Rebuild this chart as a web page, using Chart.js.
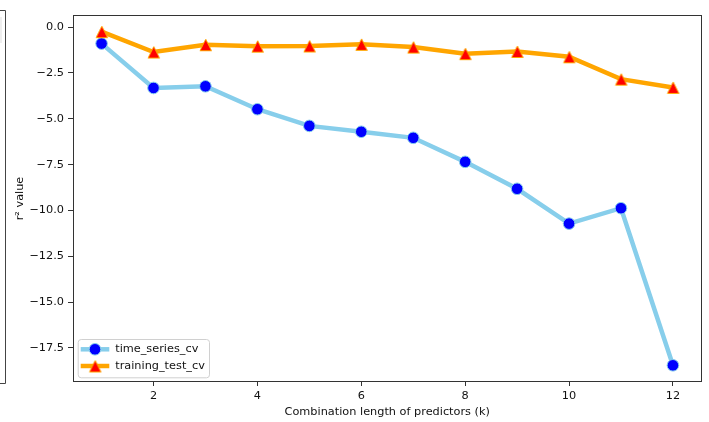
<!DOCTYPE html>
<html>
<head>
<meta charset="utf-8">
<script src="https://cdn.jsdelivr.net/npm/chart.js@4/dist/chart.umd.min.js"></script>
<style>
  html, body { margin: 0; padding: 0; background: #fff; }
  #wrap { width: 709px; height: 422px; position: relative; }
</style>
</head>
<body>
<div id="wrap"><canvas id="c" width="709" height="422"></canvas></div>
<script>
const kValues = [1, 2, 3, 4, 5, 6, 7, 8, 9, 10, 11, 12];
const timeSeriesCv = [-0.90, -3.32, -3.23, -4.48, -5.39, -5.71, -6.04, -7.35, -8.82, -10.72, -9.88, -18.45];
const trainingTestCv = [-0.25, -1.36, -0.96, -1.04, -1.03, -0.94, -1.09, -1.45, -1.33, -1.62, -2.84, -3.29];
const xTicks = [2, 4, 6, 8, 10, 12];
const yTicks = [0, -2.5, -5, -7.5, -10, -12.5, -15, -17.5];
const seriesNames = ['time_series_cv', 'training_test_cv'];

const FONT = "'DejaVu Sans', sans-serif";
const FS = 11.3;
const TXT = '#111';

// matplotlib-style '^' marker: bbox centred on the point
function makeTriangle(size, fill, edge) {
  const pad = 2;
  const s = size + pad * 2;
  const cv = document.createElement('canvas');
  cv.width = s; cv.height = s;
  const g = cv.getContext('2d');
  const c = s / 2, h = size / 2;
  g.beginPath();
  g.moveTo(c, c - h);
  g.lineTo(c - h, c + h);
  g.lineTo(c + h, c + h);
  g.closePath();
  g.fillStyle = fill; g.fill();
  g.lineWidth = 1; g.strokeStyle = edge; g.stroke();
  return cv;
}
const triImg = makeTriangle(11.5, '#ff0000', '#ffa500');

const framePlugin = {
  id: 'framePlugin',
  beforeDraw(chart) {
    const ctx = chart.ctx;
    ctx.save();
    // partial neighbouring panel at the far left
    ctx.strokeStyle = '#444';
    ctx.lineWidth = 1;
    ctx.beginPath();
    ctx.moveTo(0, 10.5); ctx.lineTo(5.5, 10.5); ctx.lineTo(5.5, 383.5); ctx.lineTo(0, 383.5);
    ctx.stroke();
    ctx.strokeStyle = '#ddd';
    ctx.beginPath();
    ctx.moveTo(1, 17); ctx.lineTo(1, 43);
    ctx.stroke();
    ctx.restore();
  },
  afterDraw(chart) {
    const ctx = chart.ctx;
    const a = chart.chartArea;
    ctx.save();
    ctx.strokeStyle = '#333';
    ctx.lineWidth = 1;
    ctx.strokeRect(Math.round(a.left) + 0.5, Math.round(a.top) + 0.5,
                   Math.round(a.right - a.left) - 1, Math.round(a.bottom - a.top) - 1);

    // legend (lower left, matplotlib style)
    const bx = a.left + 4.7, by = a.bottom - 43, bw = 131.3, bh = 38.3;
    ctx.beginPath();
    if (ctx.roundRect) ctx.roundRect(bx + 0.5, by + 0.5, bw, bh, 3); else ctx.rect(bx + 0.5, by + 0.5, bw, bh);
    ctx.fillStyle = 'rgba(255,255,255,0.8)';
    ctx.fill();
    ctx.strokeStyle = '#d0d0d0';
    ctx.stroke();

    const rows = [by + 10.3, by + 27];
    chart.data.datasets.forEach((ds, i) => {
      const y = rows[i];
      const x0 = bx + 3, x1 = bx + 31.6, xm = (x0 + x1) / 2;
      ctx.beginPath();
      ctx.moveTo(x0, y); ctx.lineTo(x1, y);
      ctx.strokeStyle = ds.borderColor;
      ctx.lineWidth = ds.borderWidth;
      ctx.stroke();
      if (ds.pointStyle === 'circle') {
        ctx.beginPath();
        ctx.arc(xm, y, ds.pointRadius, 0, Math.PI * 2);
        ctx.fillStyle = ds.pointBackgroundColor; ctx.fill();
        ctx.lineWidth = ds.pointBorderWidth; ctx.strokeStyle = ds.pointBorderColor; ctx.stroke();
      } else {
        ctx.drawImage(ds.pointStyle, xm - ds.pointStyle.width / 2, y - ds.pointStyle.height / 2);
      }
      ctx.fillStyle = TXT;
      ctx.font = FS + 'px ' + FONT;
      ctx.textBaseline = 'middle';
      ctx.textAlign = 'left';
      ctx.fillText(ds.label, bx + 37.5, y);
    });
    ctx.restore();
  }
};

const fmt = v => (Math.abs(v) < 1e-9 ? '0.0' : v.toFixed(1).replace('-', '\u2212'));

new Chart(document.getElementById('c'), {
  type: 'line',
  data: {
    datasets: [
      {
        label: seriesNames[0],
        data: kValues.map((k, i) => ({ x: k, y: timeSeriesCv[i] })),
        borderColor: '#87ceeb',
        borderWidth: 4.5,
        pointStyle: 'circle',
        pointRadius: 5.8,
        pointBackgroundColor: '#0000ff',
        pointBorderColor: '#87ceeb',
        pointBorderWidth: 1,
        tension: 0,
        order: 1
      },
      {
        label: seriesNames[1],
        data: kValues.map((k, i) => ({ x: k, y: trainingTestCv[i] })),
        borderColor: '#ffa500',
        borderWidth: 4.5,
        pointStyle: triImg,
        pointRadius: 6,
        pointBackgroundColor: '#ff0000',
        pointBorderColor: '#ffa500',
        pointBorderWidth: 1,
        tension: 0,
        order: 0
      }
    ]
  },
  options: {
    responsive: false,
    animation: false,
    events: [],
    layout: { padding: { left: 0, right: 7.5, top: 15, bottom: 0 } },
    plugins: { legend: { display: false }, tooltip: { enabled: false } },
    scales: {
      x: {
        type: 'linear',
        min: 0.45,
        max: 12.55,
        afterBuildTicks: s => { s.ticks = xTicks.map(v => ({ value: v })); },
        afterFit: s => { s.height = 40; },
        ticks: {
          font: { family: FONT, size: FS },
          color: TXT,
          padding: 3,
          maxRotation: 0,
          callback: v => String(v)
        },
        grid: { drawOnChartArea: false, drawTicks: true, tickLength: 4, color: '#333', tickWidth: 1 },
        border: { display: false },
        title: {
          display: true,
          text: 'Combination length of predictors (k)',
          font: { family: FONT, size: FS },
          color: TXT,
          padding: { top: 0, bottom: 3 }
        }
      },
      y: {
        type: 'linear',
        min: -19.36,
        max: 0.66,
        afterBuildTicks: s => { s.ticks = yTicks.map(v => ({ value: v })); },
        afterFit: s => { s.width = 73; },
        ticks: {
          font: { family: FONT, size: FS },
          color: TXT,
          padding: 4,
          callback: v => fmt(v)
        },
        grid: { drawOnChartArea: false, drawTicks: true, tickLength: 5, color: '#333', tickWidth: 1 },
        border: { display: false },
        title: {
          display: true,
          text: 'r\u00b2 value',
          font: { family: FONT, size: FS },
          color: TXT,
          padding: { top: 13, bottom: 0 }
        }
      }
    }
  },
  plugins: [framePlugin]
});
</script>
</body>
</html>
